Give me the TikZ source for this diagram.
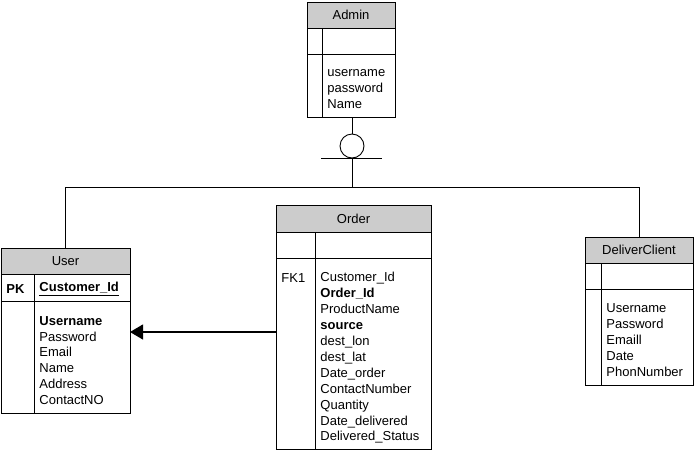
\documentclass[tikz,border=0pt]{standalone}
\usepackage{fontspec}
\setmainfont{Liberation Sans}
\usetikzlibrary{arrows.meta, positioning}

\begin{document}
\begin{tikzpicture}[x=1pt, y=-1pt, line width=0.9pt, >={Triangle[length=13pt, width=15pt]},
		head/.style={draw, fill=black!20, inner sep=0pt, outer sep=0pt, minimum height=26pt, font=\fontsize{13}{15.9}\selectfont},
		row/.style={draw, inner sep=0pt, outer sep=0pt},
		txt/.style={anchor=west, align=left, inner sep=0pt, font=\fontsize{13}{15.9}\selectfont}]
		\useasboundingbox (0,0) rectangle (695,451);

		\node[head, minimum width=88pt] (admin) at (351,15) {Admin};
		\node[row, minimum width=88pt, minimum height=26pt, below=0pt of admin] (admin-key) {};
		\node[row, minimum width=88pt, minimum height=63pt, below=0pt of admin-key] (admin-att) {};
		\draw ([xshift=15pt]admin-key.north west) -- ([xshift=15pt]admin-att.south west);
		\node[txt] (admin-list) at (327,89) {username\\password\\Name};

		\node[head, minimum width=129pt] (user) at (65.5,261) {User};
		\node[row, minimum width=129pt, minimum height=27pt, below=0pt of user] (user-key) {};
		\node[row, minimum width=129pt, minimum height=112pt, below=0pt of user-key] (user-att) {};
		\draw ([xshift=33pt]user-key.north west) -- ([xshift=33pt]user-att.south west);
		\node[txt, font=\fontsize{13}{15.9}\selectfont\bfseries] (user-pk) at (6,289) {PK};
		\node[txt, font=\fontsize{13}{15.9}\selectfont\bfseries] (user-id) at (39,289) {\underline{Customer\_Id}};
		\node[txt] (user-list) at (39,360.5) {\textbf{Username}\\Password\\Email\\Name\\Address\\ContactNO};

		\node[head, minimum width=155pt, minimum height=27pt] (order) at (353.5,218.5) {Order};
		\node[row, minimum width=155pt, minimum height=26pt, below=0pt of order] (order-key) {};
		\node[row, minimum width=155pt, minimum height=191pt, below=0pt of order-key] (order-att) {};
		\draw ([xshift=39pt]order-key.north west) -- ([xshift=39pt]order-att.south west);
		\node[txt] (order-fk) at (281,278.5) {FK1};
		\node[txt] (order-list) at (320,358) {Customer\_Id\\\textbf{Order\_Id}\\ProductName\\\textbf{source}\\dest\_lon\\dest\_lat\\Date\_order\\ContactNumber\\Quantity\\Date\_delivered\\Delivered\_Status};

		\node[head, minimum width=108pt] (client) at (639,250) {DeliverClient};
		\node[row, minimum width=108pt, minimum height=26pt, below=0pt of client] (client-key) {};
		\node[row, minimum width=108pt, minimum height=96pt, below=0pt of client-key] (client-att) {};
		\draw ([xshift=16pt]client-key.north west) -- ([xshift=16pt]client-att.south west);
		\node[txt] (client-list) at (606,340) {Username\\Password\\Emaill\\Date\\PhonNumber};

		\node[draw, circle, minimum size=24pt, inner sep=0pt, outer sep=0pt] (isa) at (352,146) {};
		\coordinate (bar) at (352,158);
		\coordinate (split) at (352,187);
		\coordinate (ref) at (276,332);

		\draw (admin-att.south -| isa) -- (isa.north);
		\draw ([xshift=-31pt]bar) -- ([xshift=30pt]bar);
		\draw (isa.south) -- (split);
		\draw (split) -| (user.north);
		\draw (split) -| (client.north);
		\draw[->, line width=1.2pt] (ref) -- (ref -| user-att.east);
	\end{tikzpicture}
\end{document}
